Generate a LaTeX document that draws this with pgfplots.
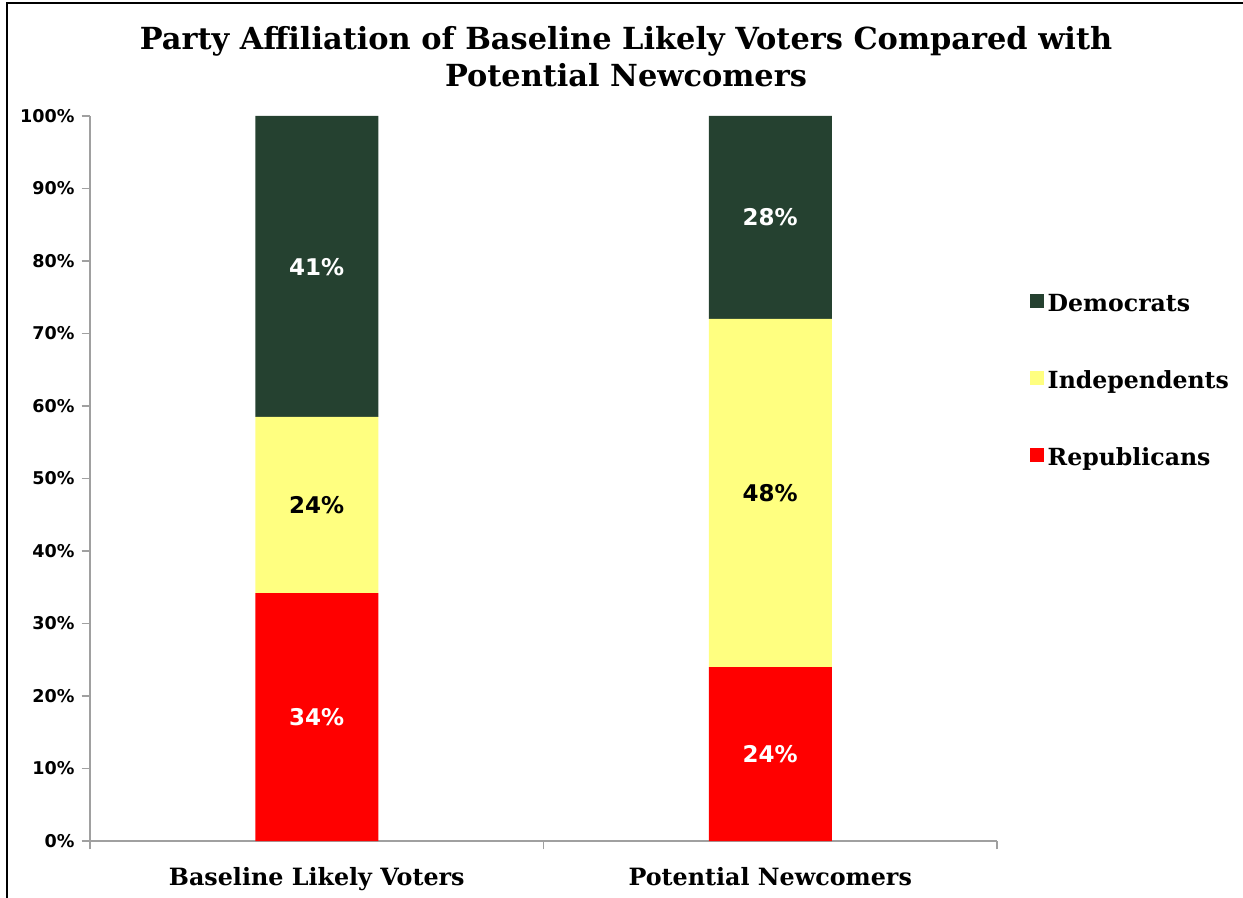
\documentclass[border=0pt]{standalone}
\usepackage{pgfplots}
\pgfplotsset{compat=1.18}
\usepackage{fontspec}
\setmainfont{DejaVu Serif}
\newfontfamily\sansfont{DejaVu Sans}
\definecolor{dem}{HTML}{254130}
\definecolor{ind}{HTML}{FFFF80}
\definecolor{rep}{HTML}{FF0000}
\definecolor{axgray}{HTML}{A0A0A0}
\pgfplotstableread{
x rep ind dem
0 34.2 24.3 41.5
1 24.0 48.0 28.0
}\partydata
\pgfplotstableread{
x y lab
0 17.1 34
0 79.2 41
1 12.0 24
1 86.0 28
}\whitelabels
\pgfplotstableread{
x y lab
0 46.3 24
1 48.0 48
}\blacklabels
\begin{document}
\begin{tikzpicture}
\begin{scope}[x=0.5pt,y=-0.5pt]
\useasboundingbox (0,0) rectangle (1243,898);
\draw[line width=1.4pt] (7,898) -- (7,3) -- (1243,3);
\node[align=center, font=\fontsize{15.2}{18.5}\selectfont\bfseries] at (626,57) {Party Affiliation of Baseline Likely Voters Compared with\\Potential Newcomers};
\end{scope}
\begin{axis}[
  at={(45pt,-420.5pt)}, anchor=south west, scale only axis,
  width=453.5pt, height=362.5pt,
  ybar stacked, bar width=61.5pt,
  xmin=-0.5, xmax=1.5, ymin=0, ymax=100,
  axis x line*=bottom, axis y line*=left,
  axis line style={axgray, line width=0.75pt},
  tick align=outside, major tick length=4.2pt,
  xtick={-0.5,0.5,1.5}, x tick label as interval,
  xticklabels={Baseline Likely Voters, Potential Newcomers},
  x tick style={axgray, line width=0.75pt},
  y tick style={axgray, line width=0.75pt},
  ytick={0,10,...,100},
  yticklabels={0\%,10\%,20\%,30\%,40\%,50\%,60\%,70\%,80\%,90\%,100\%},
  yticklabel style={font=\sansfont\bfseries\fontsize{8.8}{10}\selectfont},
  xticklabel style={font=\bfseries\fontsize{11.9}{14}\selectfont, yshift=-5.5pt},
  reverse legend,
  legend style={draw=none, fill=none, at={(1.029,0.634)}, anchor=west,
    font=\bfseries\fontsize{11.8}{13}\selectfont, row sep=24pt},
  legend cell align=left,
  legend image code/.code={\fill[#1,draw=none] (0pt,-1.8pt) rectangle (7pt,5.2pt);},
]
\addplot[fill=rep, draw=none] table[x=x, y=rep] {\partydata};
\addlegendentry{Republicans}
\addplot[fill=ind, draw=none] table[x=x, y=ind] {\partydata};
\addlegendentry{Independents}
\addplot[fill=dem, draw=none] table[x=x, y=dem] {\partydata};
\addlegendentry{Democrats}
\end{axis}
\begin{axis}[
  at={(45pt,-420.5pt)}, anchor=south west, scale only axis,
  width=453.5pt, height=362.5pt,
  xmin=-0.5, xmax=1.5, ymin=0, ymax=100,
  hide axis, clip=false,
]
\addplot[draw=none, mark=none, nodes near coords={\pgfplotspointmeta\%},
  point meta=explicit symbolic,
  nodes near coords style={anchor=center, text=white, font=\sansfont\bfseries\fontsize{11.5}{13}\selectfont}]
  table[x=x, y=y, meta=lab] {\whitelabels};
\addplot[draw=none, mark=none, nodes near coords={\pgfplotspointmeta\%},
  point meta=explicit symbolic,
  nodes near coords style={anchor=center, text=black, font=\sansfont\bfseries\fontsize{11.5}{13}\selectfont}]
  table[x=x, y=y, meta=lab] {\blacklabels};
\end{axis}
\end{tikzpicture}
\end{document}
